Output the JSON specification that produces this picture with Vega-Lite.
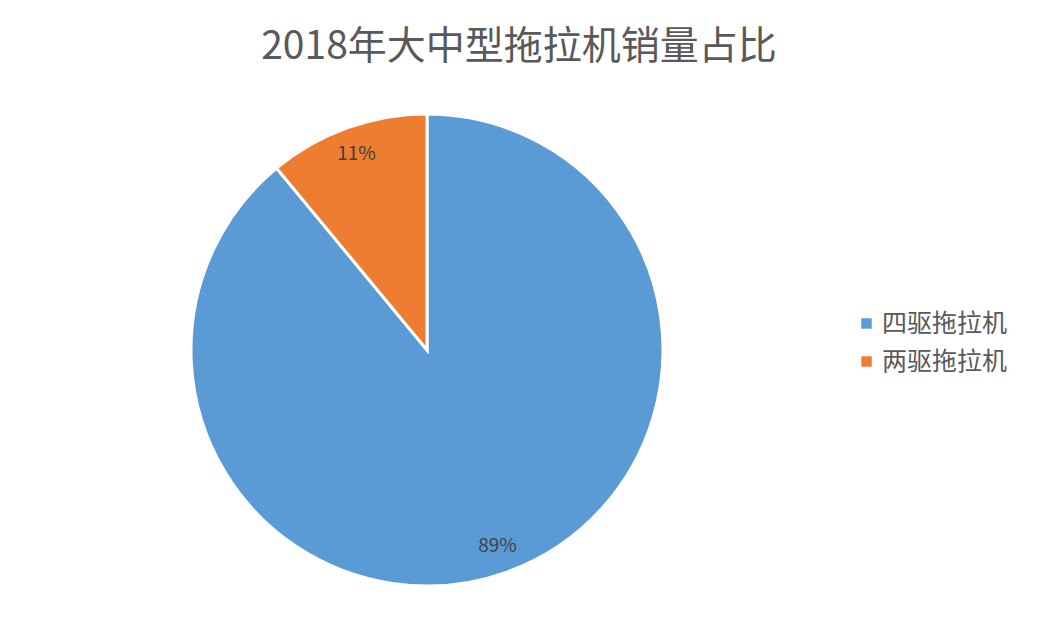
{
  "$schema": "https://vega.github.io/schema/vega-lite/v6.json",
  "autosize": {"type": "none"},
  "width": 854,
  "height": 500,
  "padding": {"left": 0, "top": 100, "right": 186, "bottom": 26},
  "background": "white",
  "title": {
    "text": "2018年大中型拖拉机销量占比",
    "font": "Noto Sans CJK SC",
    "fontSize": 39,
    "fontWeight": "normal",
    "color": "#595959",
    "anchor": "middle",
    "dx": 92,
    "offset": 33
  },
  "data": {
    "values": [
      {"type": "四驱拖拉机", "share": 89, "label": "89%", "order": 1},
      {"type": "两驱拖拉机", "share": 11, "label": "11%", "order": 2}
    ]
  },
  "encoding": {
    "theta": {"field": "share", "type": "quantitative", "stack": true},
    "order": {"field": "order", "type": "quantitative"}
  },
  "layer": [
    {
      "mark": {"type": "arc", "outerRadius": 236, "stroke": "white", "strokeWidth": 3},
      "encoding": {
        "color": {
          "field": "type",
          "type": "nominal",
          "sort": ["四驱拖拉机", "两驱拖拉机"],
          "scale": {"domain": ["四驱拖拉机", "两驱拖拉机"], "range": ["#5b9bd5", "#ed7d31"]},
          "legend": {
            "title": null,
            "orient": "none",
            "legendX": 854,
            "legendY": 211,
            "symbolType": "square",
            "symbolSize": 110,
            "symbolStrokeWidth": 0,
            "labelFont": "Noto Sans CJK SC",
            "labelFontSize": 25,
            "labelColor": "#595959",
            "labelOffset": 3,
            "rowPadding": 12
          }
        }
      }
    },
    {
      "mark": {"type": "text", "radius": 208, "font": "Noto Sans CJK SC", "fontSize": 19, "color": "#404040"},
      "encoding": {
        "text": {"field": "label", "type": "nominal"}
      }
    }
  ],
  "config": {
    "view": {"stroke": null}
  }
}
